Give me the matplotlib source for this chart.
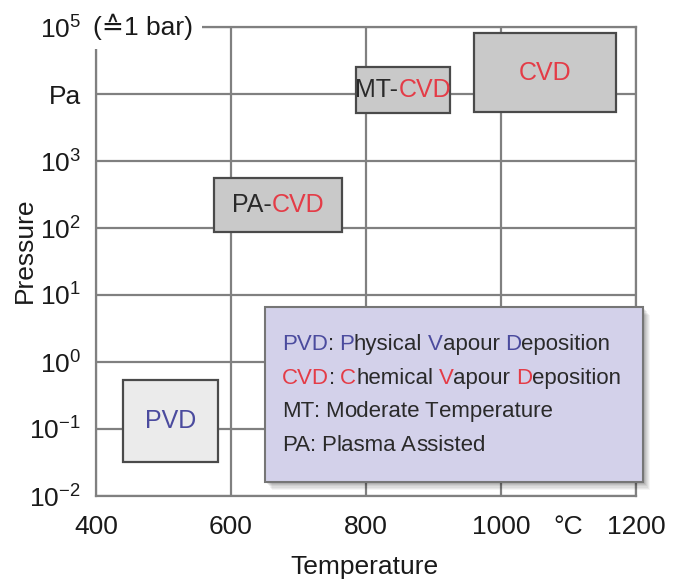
import matplotlib
matplotlib.use('Agg')
import matplotlib.pyplot as plt
from matplotlib.patches import Rectangle
from matplotlib.ticker import FixedLocator, NullLocator
from matplotlib.offsetbox import TextArea, HPacker, VPacker, AnnotationBbox

plt.rcParams['font.family'] = ['Liberation Sans Narrow', 'Liberation Sans', 'DejaVu Sans']

# ---------------- data: process windows (temperature in °C, pressure in Pa) ----------------
processes = ['PVD', 'PA-CVD', 'MT-CVD', 'CVD']
t_low = [440, 575, 785, 960]
t_high = [580, 765, 925, 1170]
p_low = [0.032, 87, 5200, 5400]
p_high = [0.54, 560, 25000, 80000]

x_ticks = [400, 600, 800, 1000, 1200]
y_ticks = [1e-2, 1e-1, 1e0, 1e1, 1e2, 1e3, 1e4, 1e5]
y_tick_labels = [r'$\mathregular{10^{-2}}$', r'$\mathregular{10^{-1}}$', r'$\mathregular{10^{0}}$',
                 r'$\mathregular{10^{1}}$', r'$\mathregular{10^{2}}$', r'$\mathregular{10^{3}}$',
                 'Pa', r'$\mathregular{10^{5}}$']

legend_abbr = ['PVD', 'CVD', 'MT', 'PA']
legend_text = ['Physical Vapour Deposition', 'Chemical Vapour Deposition',
               'Moderate Temperature', 'Plasma Assisted']

# ---------------- styles ----------------
BLUE = '#4b4b9e'
RED = '#e43c47'
DARK = '#2a2a2a'
GRID = '#808080'
abbr_color = {'PVD': BLUE, 'CVD': RED, 'MT': DARK, 'PA': DARK}
box_fill = {'PVD': '#ebebeb', 'PA-CVD': '#c9c9c9', 'MT-CVD': '#c9c9c9', 'CVD': '#c9c9c9'}

fig = plt.figure(figsize=(6.84, 5.81), dpi=100)
ax = fig.add_axes([96 / 684, 85 / 581, 540 / 684, 469 / 581])
ax.set_yscale('log')
ax.set_xlim(400, 1200)
ax.set_ylim(1e-2, 1e5)

ax.xaxis.set_major_locator(FixedLocator(x_ticks))
ax.set_xticklabels([str(t) for t in x_ticks])
ax.xaxis.set_minor_locator(FixedLocator([1100]))
ax.xaxis.set_minor_formatter(matplotlib.ticker.FixedFormatter(['°C']))
ax.yaxis.set_major_locator(FixedLocator(y_ticks))
ax.set_yticklabels(y_tick_labels)
ax.yaxis.set_minor_locator(NullLocator())
ax.tick_params(which='both', length=0, labelsize=19, colors='#1a1a1a')
ax.tick_params(axis='x', which='both', pad=14)
ax.tick_params(axis='y', pad=11)

ax.grid(True, which='major', color=GRID, lw=1.6)
ax.set_axisbelow(True)
for s in ax.spines.values():
    s.set_color(GRID)
    s.set_linewidth(1.6)

# note next to the top tick
ax.text(-0.006, 1.0, '(≙1 bar)', transform=ax.transAxes, ha='left', va='center',
        fontsize=19, color='#1a1a1a', clip_on=False, zorder=10,
        bbox=dict(boxstyle='square,pad=0.35', fc='white', ec='none'))

ax.set_xlabel('Temperature', fontsize=19, color='#1a1a1a')
ax.xaxis.set_label_coords(0.498, -0.125)
ax.set_ylabel('Pressure', fontsize=19, color='#1a1a1a')
ax.yaxis.label.set_va('center')
ax.yaxis.set_label_coords(-0.131, 0.524)

# process boxes
for name, t0, t1, p0, p1 in zip(processes, t_low, t_high, p_low, p_high):
    ax.add_patch(Rectangle((t0, p0), t1 - t0, p1 - p0, fc=box_fill[name], ec='#4a4a4a',
                           lw=1.6, zorder=3))
    parts = name.split('-')
    areas = []
    if len(parts) == 2:
        areas.append(TextArea(parts[0] + '-', textprops=dict(color=DARK, fontsize=18)))
    areas.append(TextArea(parts[-1], textprops=dict(color=abbr_color[parts[-1]], fontsize=18)))
    pack = HPacker(children=areas, sep=0, pad=0, align='baseline')
    ab = AnnotationBbox(pack, ((t0 + t1) / 2, (p0 * p1) ** 0.5), frameon=False,
                        box_alignment=(0.5, 0.5), pad=0)
    ab.set_zorder(4)
    ax.add_artist(ab)

# legend panel with soft shadow
lx, ly, lw_, lh = 0.313, 0.030, 0.700, 0.373
for i, a in enumerate([0.04, 0.05, 0.05, 0.06, 0.07, 0.08]):
    off = 0.018 - i * 0.0028
    ax.add_patch(Rectangle((lx + off * 0.7, ly - off), lw_, lh, transform=ax.transAxes,
                           fc='#000000', ec='none', alpha=a, zorder=5, clip_on=False))
ax.add_patch(Rectangle((lx, ly), lw_, lh, transform=ax.transAxes, fc='#d3d1ea',
                       ec='#767676', lw=1.5, zorder=6, clip_on=False))

FS = 16
space = 0.24 * FS
rows = []
for abbr, text in zip(legend_abbr, legend_text):
    col = abbr_color[abbr]
    words = [HPacker(children=[TextArea(abbr, textprops=dict(color=col, fontsize=FS)),
                               TextArea(':', textprops=dict(color=DARK, fontsize=FS))],
                     sep=0, pad=0, align='baseline')]
    for w in text.split():
        words.append(HPacker(children=[TextArea(w[0], textprops=dict(color=col, fontsize=FS)),
                                       TextArea(w[1:], textprops=dict(color=DARK, fontsize=FS))],
                             sep=0, pad=0, align='baseline'))
    rows.append(HPacker(children=words, sep=space, pad=0, align='baseline'))
legend_pack = VPacker(children=rows, sep=9, pad=0, align='left')
ab = AnnotationBbox(legend_pack, (0.344, 0.345), xycoords='axes fraction', frameon=False,
                    box_alignment=(0, 1), pad=0)
ab.set_zorder(7)
ax.add_artist(ab)

fig.savefig('out.png', dpi=100)
